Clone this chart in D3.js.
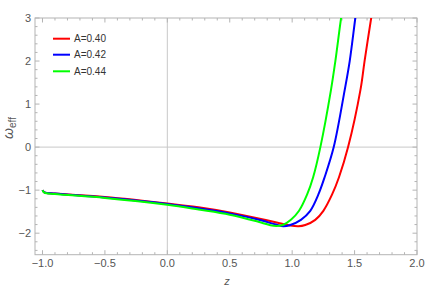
<!DOCTYPE html>
<html><head><meta charset="utf-8">
<script src="https://cdn.jsdelivr.net/npm/d3@7"></script>
<style>body{margin:0;background:#fff}svg{display:block}</style>
</head><body>
<svg id="c" width="436" height="289"></svg>
<script>
const seriesNames = ["A=0.40", "A=0.42", "A=0.44"];
const seriesColors = ["#ff0000", "#0000ff", "#00ff00"];
const zRed =   [-1.0, -0.985, -0.9, -0.5, 0.0, 0.25, 0.5, 0.75, 0.9, 0.98, 1.05, 1.105, 1.185, 1.25, 1.32, 1.375, 1.448, 1.547, 1.58, 1.633, 1.66];
const wRed =   [-1.0, -1.05, -1.08, -1.16, -1.31, -1.40, -1.52, -1.67, -1.77, -1.82, -1.84, -1.81, -1.69, -1.48, -1.1, -0.7, 0, 1.33, 2, 3, 3.5];
const zBlue =  [-1.0, -0.985, -0.9, -0.5, 0.0, 0.25, 0.5, 0.75, 0.87, 0.93, 0.985, 1.07, 1.145, 1.21, 1.26, 1.333, 1.421, 1.461, 1.506, 1.53];
const wBlue =  [-1.0, -1.05, -1.08, -1.17, -1.32, -1.42, -1.54, -1.70, -1.80, -1.84, -1.81, -1.69, -1.48, -1.1, -0.7, 0, 1.33, 2, 3, 3.5];
const zGreen = [-1.0, -0.985, -0.9, -0.5, 0.0, 0.25, 0.5, 0.75, 0.85, 0.925, 0.99, 1.055, 1.12, 1.168, 1.226, 1.311, 1.346, 1.392, 1.42];
const wGreen = [-1.0, -1.06, -1.09, -1.18, -1.34, -1.45, -1.57, -1.75, -1.83, -1.81, -1.69, -1.48, -1.1, -0.7, 0, 1.33, 2, 3, 3.5];
const xTicks = [-1.0, -0.5, 0.0, 0.5, 1.0, 1.5, 2.0];
const yTicks = [-2, -1, 0, 1, 2, 3];

const svg = d3.select("#c");
const L = 35, R = 417, T = 18, B = 254.7;
const x = d3.scaleLinear().domain([-1.06, 2]).range([L, R]);
const y = d3.scaleLinear().domain([-2.5, 3]).range([B, T]);
const frameCol = "#b4b4b4", txtCol = "#555";

// origin lines
svg.append("line").attr("x1", x(0)).attr("x2", x(0)).attr("y1", T).attr("y2", B).attr("stroke", "#c8c8c8").attr("stroke-width", 1);
svg.append("line").attr("x1", L).attr("x2", R).attr("y1", y(0)).attr("y2", y(0)).attr("stroke", "#c8c8c8").attr("stroke-width", 1);

// frame
svg.append("rect").attr("x", L).attr("y", T).attr("width", R - L).attr("height", B - T)
  .attr("fill", "none").attr("stroke", frameCol).attr("stroke-width", 1);

// ticks
const xMinor = d3.range(-1.0, 2.001, 0.1).map(v => +v.toFixed(2));
const yMinor = d3.range(-2.4, 3.001, 0.2).map(v => +v.toFixed(2));
const tk = svg.append("g").attr("stroke", frameCol).attr("stroke-width", 1);
xMinor.forEach(v => {
  const maj = xTicks.some(t => Math.abs(t - v) < 1e-6);
  const len = maj ? 4.5 : 2.5;
  tk.append("line").attr("x1", x(v)).attr("x2", x(v)).attr("y1", B).attr("y2", B - len);
  tk.append("line").attr("x1", x(v)).attr("x2", x(v)).attr("y1", T).attr("y2", T + len);
});
yMinor.forEach(v => {
  const maj = yTicks.some(t => Math.abs(t - v) < 1e-6);
  const len = maj ? 4.5 : 2.5;
  tk.append("line").attr("x1", L).attr("x2", L + len).attr("y1", y(v)).attr("y2", y(v));
  tk.append("line").attr("x1", R).attr("x2", R - len).attr("y1", y(v)).attr("y2", y(v));
});

// tick labels
const font = "Liberation Sans, Arial, sans-serif";
svg.append("g").selectAll("text").data(xTicks).join("text")
  .attr("x", d => x(d)).attr("y", 267).attr("text-anchor", "middle")
  .attr("font-family", font).attr("font-size", 11).attr("fill", txtCol)
  .text(d => d3.format(".1f")(d).replace("-", "\u2212"));
svg.append("g").selectAll("text").data(yTicks).join("text")
  .attr("x", 31).attr("y", d => y(d) + 4).attr("text-anchor", "end")
  .attr("font-family", font).attr("font-size", 11).attr("fill", txtCol)
  .text(d => String(d).replace("-", "\u2212"));

// axis labels
svg.append("text").attr("x", 227).attr("y", 285).attr("text-anchor", "middle")
  .attr("font-family", font).attr("font-size", 11).attr("fill", txtCol).attr("font-style", "italic").text("z");
const yl = svg.append("text").attr("transform", "translate(13,128) rotate(-90)").attr("text-anchor", "middle")
  .attr("font-family", font).attr("fill", txtCol);
yl.append("tspan").attr("font-size", 14).attr("font-style", "italic").text("\u03c9");
yl.append("tspan").attr("font-size", 10).attr("dy", 3).text("eff");

// curves
svg.append("clipPath").attr("id", "clip").append("rect").attr("x", L).attr("y", T).attr("width", R - L).attr("height", B - T);
const line = d3.line().x(d => x(d[0])).y(d => y(d[1])).curve(d3.curveCatmullRom.alpha(0.5));
const series = [d3.zip(zRed, wRed), d3.zip(zBlue, wBlue), d3.zip(zGreen, wGreen)];
const g = svg.append("g").attr("clip-path", "url(#clip)");
series.forEach((s, i) => {
  g.append("path").attr("d", line(s)).attr("fill", "none").attr("stroke", seriesColors[i]).attr("stroke-width", 2);
});

// legend
const legY = [38.7, 54.7, 71.3];
seriesNames.forEach((n, i) => {
  svg.append("line").attr("x1", 53).attr("x2", 70).attr("y1", legY[i]).attr("y2", legY[i]).attr("stroke", seriesColors[i]).attr("stroke-width", 2);
  svg.append("text").attr("x", 74).attr("y", legY[i] + 3.5).attr("font-family", font).attr("font-size", 10).attr("fill", "#333").text(n);
});
</script>
</body></html>
